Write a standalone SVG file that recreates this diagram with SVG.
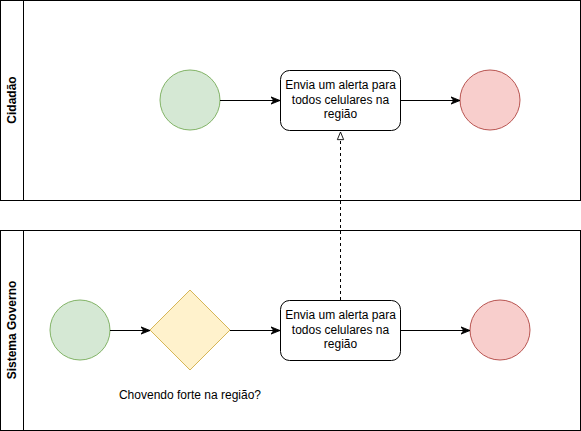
<svg xmlns="http://www.w3.org/2000/svg" width="581" height="431" viewBox="0 0 581 431">
<defs>
<marker id="arr" viewBox="0 0 10 10" refX="10" refY="5" markerWidth="9" markerHeight="9" markerUnits="userSpaceOnUse" orient="auto">
<path d="M0,1 L10,5 L0,9 L3,5 Z" fill="#000" stroke="#000" stroke-width="1"/>
</marker>
<marker id="open" viewBox="0 0 10 10" refX="9.5" refY="5" markerWidth="9" markerHeight="9" markerUnits="userSpaceOnUse" orient="auto">
<path d="M1,1.5 L9.5,5 L1,8.5 Z" fill="#fff" stroke="#000" stroke-width="1"/>
</marker>
</defs>
<style>
text{font-family:"Liberation Sans",Arial,sans-serif;font-size:12px;fill:#000}
.hdr{font-weight:bold;text-anchor:middle}
.pool{fill:#fff;stroke:#000;stroke-width:1}
.start{fill:#d5e8d4;stroke:#82b366;stroke-width:1}
.end{fill:#f8cecc;stroke:#b85450;stroke-width:1}
.gw{fill:#fff2cc;stroke:#d6b656;stroke-width:1}
.task{fill:#fff;stroke:#000;stroke-width:1}
.c{text-anchor:middle}
.edge{fill:none;stroke:#000;stroke-width:1}
</style>
<rect width="581" height="431" fill="#fff"/>
<g id="pool-cidadao">
<rect class="pool" x="0.5" y="0.5" width="580" height="200"/>
<line x1="23.5" y1="0.5" x2="23.5" y2="200.5" stroke="#000"/>
<text class="hdr" transform="translate(16,100) rotate(-90)">Cidadão</text>
</g>
<g id="pool-governo">
<rect class="pool" x="0.5" y="230.5" width="580" height="200"/>
<line x1="23.5" y1="230.5" x2="23.5" y2="430.5" stroke="#000"/>
<text class="hdr" transform="translate(16,330) rotate(-90)">Sistema Governo</text>
</g>
<g id="start-cidadao"><circle class="start" cx="190" cy="100" r="30"/></g>
<g id="task-cidadao">
<rect class="task" x="280.5" y="70.5" width="120" height="60" rx="9"/>
<text class="c" x="340.5" y="89">Envia um alerta para</text>
<text class="c" x="340.5" y="103.5">todos celulares na</text>
<text class="c" x="340.5" y="118">região</text>
</g>
<g id="end-cidadao"><circle class="end" cx="490" cy="100" r="30"/></g>
<g id="start-governo"><circle class="start" cx="80" cy="330" r="30"/></g>
<g id="gateway">
<polygon class="gw" points="190,290 230,330 190,370 150,330"/>
<text class="c" x="190" y="399">Chovendo forte na região?</text>
</g>
<g id="task-governo">
<rect class="task" x="280.5" y="300.5" width="120" height="60" rx="9"/>
<text class="c" x="340.5" y="319">Envia um alerta para</text>
<text class="c" x="340.5" y="333.5">todos celulares na</text>
<text class="c" x="340.5" y="348">região</text>
</g>
<g id="end-governo"><circle class="end" cx="500" cy="330" r="30"/></g>
<g id="connectors">
<path class="edge" d="M220,100.5 L280,100.5" marker-end="url(#arr)"/>
<path class="edge" d="M400.5,100.5 L460,100.5" marker-end="url(#arr)"/>
<path class="edge" d="M110,330.5 L150,330.5" marker-end="url(#arr)"/>
<path class="edge" d="M230,330.5 L280,330.5" marker-end="url(#arr)"/>
<path class="edge" d="M400.5,330.5 L470,330.5" marker-end="url(#arr)"/>
<path class="edge" d="M340.5,300 L340.5,132" stroke-dasharray="3,3" marker-end="url(#open)"/>
</g>
</svg>
